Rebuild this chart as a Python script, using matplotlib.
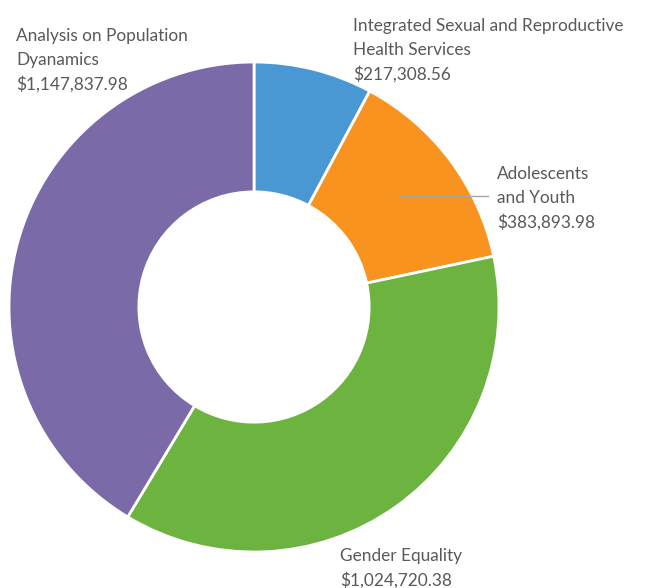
import matplotlib
matplotlib.use("Agg")
import matplotlib.pyplot as plt

categories = ["Integrated Sexual and Reproductive\nHealth Services",
              "Adolescents\nand Youth",
              "Gender Equality",
              "Analysis on Population\nDyanamics"]
values = [217308.56, 383893.98, 1024720.38, 1147837.98]
colors = ["#4A98D3", "#F7931E", "#6CB33F", "#7A6AA8"]

W, H = 649, 588
fig = plt.figure(figsize=(W / 100, H / 100), dpi=100)
ax = fig.add_axes([0, 0, 1, 1])
ax.set_xlim(0, W)
ax.set_ylim(0, H)
ax.set_aspect("equal")
ax.axis("off")

cx, cy, R = 254, H - 307, 245
ax.pie(values, colors=colors, startangle=90, counterclock=False,
       center=(cx, cy), radius=R, frame=True,
       wedgeprops=dict(width=R * 0.53, edgecolor="white", linewidth=2))
ax.set_xlim(0, W)
ax.set_ylim(0, H)
ax.axis("off")

txt = dict(fontsize=12.4, color="#595959", family="Lato", va="top", ha="left",
           linespacing=1.58)
labels_pos = [(353, 18), (497, 166), (340, 548), (16, 28)]
for cat, v, (x, y) in zip(categories, values, labels_pos):
    ax.text(x, H - y, f"{cat}\n${v:,.2f}", **txt)

ax.plot([400, 488], [H - 196, H - 196], color="#A6A6A6", lw=1)

fig.savefig("out.png", dpi=100)
